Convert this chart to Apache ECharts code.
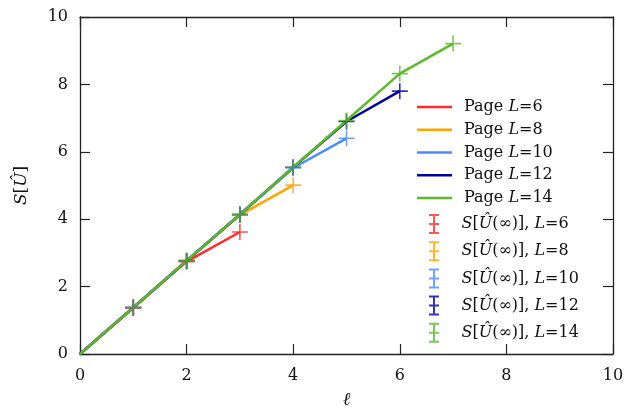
<!DOCTYPE html>
<html>
<head>
<meta charset="utf-8">
<script src="https://cdn.jsdelivr.net/npm/echarts@6/dist/echarts.min.js"></script>
<style>html,body{margin:0;padding:0;background:#fff}#c{width:636px;height:411px}</style>
</head>
<body>
<div id="c"></div>
<script>
// ---- data ----
var sizes = [6, 8, 10, 12, 14];
var ell = [0, 1, 2, 3, 4, 5, 6, 7];
var pageL6  = [0, 1.37, 2.74, 3.62];
var pageL8  = [0, 1.38, 2.76, 4.12, 5.01];
var pageL10 = [0, 1.38, 2.76, 4.14, 5.52, 6.40];
var pageL12 = [0, 1.38, 2.77, 4.14, 5.54, 6.90, 7.80];
var pageL14 = [0, 1.38, 2.77, 4.14, 5.54, 6.93, 8.32, 9.21];
var sInfL6  = [1.37, 2.74, 3.62];
var sInfL8  = [1.38, 2.76, 4.12, 5.01];
var sInfL10 = [1.38, 2.76, 4.14, 5.52, 6.40];
var sInfL12 = [1.38, 2.77, 4.14, 5.54, 6.90, 7.80];
var sInfL14 = [1.38, 2.77, 4.14, 5.54, 6.93, 8.32, 9.21];
var xTicks = [0, 2, 4, 6, 8, 10];
var yTicks = [0, 2, 4, 6, 8, 10];

var pages = [pageL6, pageL8, pageL10, pageL12, pageL14];
var sinfs = [sInfL6, sInfL8, sInfL10, sInfL12, sInfL14];
var colors = ['#ff2a2a', '#ffa500', '#4a8cff', '#00009e', '#5db82c'];
var FONT = 'DejaVu Serif';

var series = [];
var legend1 = [], legend2 = [];
sizes.forEach(function (L, k) {
  var name = 'Page L=' + L;
  legend1.push({ name: name, icon: 'rect' });
  series.push({
    name: name, type: 'line', showSymbol: false, symbol: 'none',
    xAxisIndex: 0, yAxisIndex: 0,
    data: pages[k].map(function (v, i) { return [ell[i], v]; }),
    lineStyle: { color: colors[k], width: 2.5 },
    itemStyle: { color: colors[k] },
    z: 2 + k
  });
});
var plus = 'path://M0,8 L16,8 M8,0 L8,16';
var ibeam = 'path://M0,0 L10,0 M5,0 L5,18 M0,18 L10,18 M0,9 L10,9';
sizes.forEach(function (L, k) {
  var name = 'S L=' + L;
  legend2.push({ name: name, icon: ibeam });
  series.push({
    name: name, type: 'scatter', symbol: plus, symbolSize: 16,
    xAxisIndex: 0, yAxisIndex: 0,
    data: sinfs[k].map(function (v, i) { return [ell[i + 1], v]; }),
    itemStyle: { color: 'transparent', borderColor: colors[k], borderWidth: 1.6, opacity: 0.8 },
    z: 10 + k
  });
});

var richBase = {
  sp1: { width: 7 },
  sp2: { width: 15 },
  r: { fontFamily: FONT, fontSize: 16, color: '#111', lineHeight: 16 },
  i: { fontFamily: FONT, fontSize: 16, fontStyle: 'italic', color: '#111', lineHeight: 16 }
};

function axisCommon() {
  return {
    type: 'value', min: 0, max: 10, interval: 2,
    axisLine: { show: true, onZero: false, lineStyle: { color: '#222', width: 1.3 } },
    axisTick: { show: true, inside: true, length: 10, lineStyle: { color: '#222', width: 1.2 } },
    splitLine: { show: false }
  };
}

var option = {
  animation: false,
  backgroundColor: '#fff',
  grid: { left: 80, right: 23, top: 17, bottom: 57, containLabel: false, outerBoundsMode: 'none' },
  xAxis: [
    Object.assign(axisCommon(), {
      position: 'bottom',
      axisLabel: { fontFamily: FONT, fontSize: 16, color: '#111', margin: 14,
        formatter: function (v) { return xTicks.indexOf(v) >= 0 ? String(v) : ''; } },
      name: 'ℓ', nameLocation: 'middle', nameGap: 37,
      nameTextStyle: { fontFamily: FONT, fontSize: 18, fontStyle: 'italic', color: '#111' }
    }),
    Object.assign(axisCommon(), { position: 'top', axisLabel: { show: false } })
  ],
  yAxis: [
    Object.assign(axisCommon(), {
      position: 'left',
      axisLabel: { fontFamily: FONT, fontSize: 16, color: '#111', margin: 12,
        formatter: function (v) { return yTicks.indexOf(v) >= 0 ? String(v) : ''; } },
      name: '{i|S}{r|[}{i|Û}{r|]}', nameLocation: 'middle', nameGap: 50, nameRotate: 90,
      nameTextStyle: { rich: {
        r: { fontFamily: FONT, fontSize: 17, color: '#111' },
        i: { fontFamily: FONT, fontSize: 17, fontStyle: 'italic', color: '#111' } } }
    }),
    Object.assign(axisCommon(), { position: 'right', axisLabel: { show: false } })
  ],
  legend: [
    {
      data: legend1, orient: 'vertical', left: 417, top: 99,
      itemWidth: 35, itemHeight: 2.5, itemGap: 6.75, padding: 0,
      selectedMode: false,
      textStyle: { rich: richBase },
      formatter: function (n) {
        var L = n.split('=')[1];
        return '{sp1|}{r|Page }{i|L}{r|=' + L + '}';
      }
    },
    {
      data: legend2, orient: 'vertical', left: 428, top: 214,
      itemWidth: 15, itemHeight: 18, itemGap: 7.2, padding: 0,
      selectedMode: false,
      textStyle: { rich: richBase },
      formatter: function (n) {
        var L = n.split('=')[1];
        return '{sp2|}{i|S}{r|[}{i|Û}{r|(∞)], }{i|L}{r|=' + L + '}';
      }
    }
  ],
  series: series
};

var chart = echarts.init(document.getElementById('c'), null, { renderer: 'canvas' });
chart.setOption(option);
</script>
</body>
</html>
